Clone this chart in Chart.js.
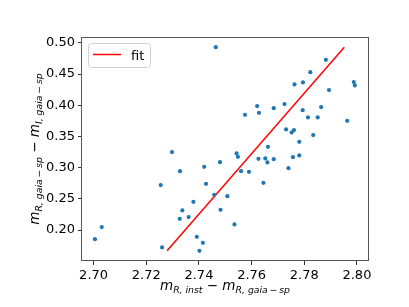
<!DOCTYPE html>
<html>
<head>
<meta charset="utf-8">
<script src="https://cdn.jsdelivr.net/npm/chart.js@4.4.1/dist/chart.umd.min.js"></script>
<style>
  html, body { margin: 0; padding: 0; background: #fff; }
  #chart { display: block; }
</style>
</head>
<body>
<canvas id="chart" width="409" height="307"></canvas>
<script>
// measured points (x = m_R,inst - m_R,gaia-sp, y = m_R,gaia-sp - m_I,gaia-sp)
const xValues = [
  2.7464, 2.7298, 2.7882, 2.7823, 2.7763, 2.7795, 2.7988, 2.7992, 2.7894, 2.7621,
  2.7628, 2.7725, 2.7684, 2.7575, 2.7794, 2.7864, 2.7814, 2.7851, 2.7963, 2.7731,
  2.7761, 2.7752, 2.7834, 2.7781, 2.7662, 2.7543, 2.7548, 2.7626, 2.7652, 2.7660,
  2.7684, 2.7740, 2.7757, 2.7781, 2.7560, 2.7590, 2.7645, 2.7480, 2.7427, 2.7458,
  2.7508, 2.7482, 2.7535, 2.7415, 2.7420, 2.7328, 2.7255, 2.7379, 2.7337, 2.7327,
  2.7361, 2.7392, 2.7402, 2.7260, 2.7005, 2.7031
];
const yValues = [
  0.4930, 0.3250, 0.4728, 0.4530, 0.4333, 0.4365, 0.4370, 0.4317, 0.4242, 0.3986,
  0.3878, 0.4018, 0.3953, 0.3846, 0.3921, 0.3970, 0.3804, 0.3804, 0.3750, 0.3612,
  0.3601, 0.3564, 0.3521, 0.3413, 0.3333, 0.3228, 0.3173, 0.3141, 0.3147, 0.3083,
  0.3136, 0.2992, 0.3168, 0.3195, 0.2944, 0.2933, 0.2756, 0.3088, 0.2740, 0.2564,
  0.2543, 0.2324, 0.2090, 0.1795, 0.3013, 0.2944, 0.2720, 0.2452, 0.2314, 0.2180,
  0.2207, 0.1891, 0.1667, 0.1721, 0.1854, 0.2047
];
// fit line end points
const fitX = [2.7279, 2.7952];
const fitY = [0.1668, 0.4930];

const xTicks = [2.70, 2.72, 2.74, 2.76, 2.78, 2.80];
const yTicks = [0.20, 0.25, 0.30, 0.35, 0.40, 0.45, 0.50];
const xLimits = [2.6956, 2.8042];
const yLimits = [0.1504, 0.5093];
const legendLabel = 'fit';

// axis titles: [text, style] with style 'i' italic, 'n' normal, 's' subscript
const xTitle = [['m', 'i'], ['R, inst', 's'], [' \u2212 ', 'n'], ['m', 'i'], ['R, gaia\u2009\u2212\u2009sp', 's']];
const yTitle = [['m', 'i'], ['R, gaia\u2009\u2212\u2009sp', 's'], [' \u2212 ', 'n'], ['m', 'i'], ['I, gaia\u2009\u2212\u2009sp', 's']];

const FONT = 'DejaVu Sans';
Chart.defaults.font.family = FONT;
Chart.defaults.font.size = 13;
Chart.defaults.color = '#000';

function mathFont(style) {
  if (style === 's') return 'italic 9.3px "' + FONT + '"';
  if (style === 'i') return 'italic 13.5px "' + FONT + '"';
  return '13.5px "' + FONT + '"';
}

function drawMath(ctx, parts) {
  // draws centered on (0, 0) baseline
  let total = 0;
  parts.forEach(p => { ctx.font = mathFont(p[1]); total += ctx.measureText(p[0]).width; });
  let x = -total / 2;
  ctx.textBaseline = 'alphabetic';
  ctx.textAlign = 'left';
  parts.forEach(p => {
    ctx.font = mathFont(p[1]);
    ctx.fillText(p[0], x, p[1] === 's' ? 3.2 : 0);
    x += ctx.measureText(p[0]).width;
  });
}

const decorations = {
  id: 'decorations',
  afterDraw(chart) {
    const ctx = chart.ctx;
    const a = chart.chartArea;
    ctx.save();
    // frame
    ctx.strokeStyle = '#555';
    ctx.lineWidth = 1;
    ctx.strokeRect(Math.round(a.left) - 0.5, Math.round(a.top) + 0.5,
      Math.round(a.right) - Math.round(a.left) + 1, Math.round(a.bottom) - Math.round(a.top) - 1);

    // legend
    ctx.fillStyle = 'rgba(255,255,255,0.8)';
    ctx.strokeStyle = '#d0d0d0';
    ctx.beginPath();
    ctx.roundRect(a.left + 6.5, a.top + 6.5, 62, 24, 3);
    ctx.fill();
    ctx.stroke();
    ctx.strokeStyle = '#ff0000';
    ctx.lineWidth = 1.5;
    ctx.beginPath();
    ctx.moveTo(a.left + 11, a.top + 17.5);
    ctx.lineTo(a.left + 39, a.top + 17.5);
    ctx.stroke();
    ctx.fillStyle = '#000';
    ctx.font = '13px "' + FONT + '"';
    ctx.textBaseline = 'alphabetic';
    ctx.textAlign = 'left';
    ctx.fillText(legendLabel, a.left + 49, a.top + 22.5);

    // axis titles
    ctx.fillStyle = '#000';
    ctx.save();
    ctx.translate((a.left + a.right) / 2, 290);
    drawMath(ctx, xTitle);
    ctx.restore();
    ctx.save();
    ctx.translate(38.5, (a.top + a.bottom) / 2);
    ctx.rotate(-Math.PI / 2);
    drawMath(ctx, yTitle);
    ctx.restore();
    ctx.restore();
  }
};

new Chart(document.getElementById('chart'), {
  type: 'scatter',
  data: {
    datasets: [
      {
        label: 'data',
        data: xValues.map((x, i) => ({ x: x, y: yValues[i] })),
        backgroundColor: '#1f77b4',
        borderWidth: 0,
        pointRadius: 2.1,
        pointHoverRadius: 2.1
      },
      {
        label: legendLabel,
        type: 'line',
        data: fitX.map((x, i) => ({ x: x, y: fitY[i] })),
        borderColor: '#ff0000',
        borderWidth: 1.5,
        pointRadius: 0,
        fill: false
      }
    ]
  },
  options: {
    responsive: false,
    animation: false,
    devicePixelRatio: 1,
    layout: { padding: { top: 37, right: 41, left: 0, bottom: 0 } },
    plugins: { legend: { display: false }, tooltip: { enabled: false } },
    scales: {
      x: {
        type: 'linear',
        min: xLimits[0],
        max: xLimits[1],
        afterBuildTicks: s => { s.ticks = xTicks.map(v => ({ value: v })); },
        afterFit: s => { s.height = 46; },
        border: { display: false },
        grid: { drawOnChartArea: false, tickLength: 4, color: '#333', tickWidth: 1 },
        ticks: { padding: 3, maxRotation: 0, callback: v => v.toFixed(2) }
      },
      y: {
        type: 'linear',
        min: yLimits[0],
        max: yLimits[1],
        afterBuildTicks: s => { s.ticks = yTicks.map(v => ({ value: v })); },
        afterFit: s => { s.width = 82; },
        border: { display: false },
        grid: { drawOnChartArea: false, tickLength: 4, color: '#333', tickWidth: 1 },
        ticks: { padding: 3, callback: v => v.toFixed(2) }
      }
    }
  },
  plugins: [decorations]
});
</script>
</body>
</html>
